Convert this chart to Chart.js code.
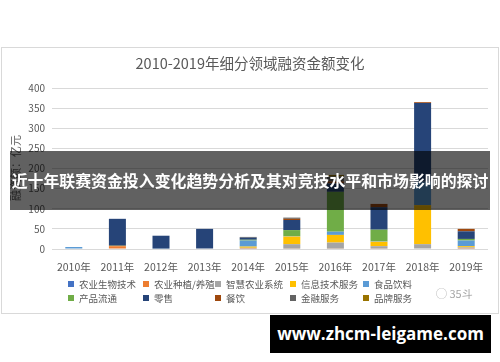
<!DOCTYPE html>
<html lang="zh">
<head>
<meta charset="UTF-8">
<title>2010-2019年细分领域融资金额变化</title>
<script src="https://cdn.jsdelivr.net/npm/chart.js"></script>
<style>
  html, body { margin: 0; padding: 0; background: #fff; }
  body { width: 500px; height: 362px; position: relative; overflow: hidden;
         font-family: 'Noto Sans CJK SC', 'Liberation Sans', sans-serif; }
  .frame { position: absolute; left: 1px; top: 47px; width: 496px; height: 265px; border: 1px solid #d9d9d9; }
  #chartBox { position: absolute; left: 0; top: 0; width: 500px; height: 362px; }
  .title { position: absolute; left: 0; width: 500px; top: 53px; text-align: center;
           font-size: 14.5px; color: #595959; line-height: 20px; }
  .ytitle { position: absolute; left: 15px; top: 168px; transform: translate(-50%, -50%) rotate(-90deg);
            font-size: 11px; color: #595959; white-space: nowrap; }
  .legend { position: absolute; left: 0; top: 277px; width: 500px; }
  .legend-item { position: absolute; font-size: 9.5px; color: #595959; white-space: nowrap; line-height: 14px; }
  .legend-item span.box { display: inline-block; width: 6px; height: 6px; margin-right: 5px; vertical-align: 1px; }
  .mark { position: absolute; left: 436px; top: 285px; font-size: 11px; color: #a6a6a6; }
  .banner { position: absolute; left: 10px; top: 151px; width: 480px; height: 59px;
            background: rgba(0,0,0,0.62); color: #fff; font-weight: bold; font-size: 15.9px;
            line-height: 59px; text-align: center; white-space: nowrap; }
  .site { position: absolute; left: 270px; top: 315px; width: 221px; height: 38px; background: #000;
          color: #fff; font-family: 'Open Sans', 'DejaVu Sans', sans-serif; font-weight: bold; font-size: 17px;
          line-height: 38px; text-align: center; white-space: nowrap; }
</style>
</head>
<body>
  <div class="frame"></div>
  <div id="chartBox"><canvas id="fundChart"></canvas></div>
  <div class="title">2010-2019年细分领域融资金额变化</div>
  <div class="ytitle">融资额：亿元</div>
  <div class="legend" id="legend"></div>
  <div class="mark">&#9711; 35斗</div>
  <div class="banner">近十年联赛资金投入变化趋势分析及其对竞技水平和市场影响的探讨</div>
  <div class="site">www.zhcm-leigame.com</div>

<script>
// years on the x axis
const years = ['2010年', '2011年', '2012年', '2013年', '2014年', '2015年', '2016年', '2017年', '2018年', '2019年'];
const yTicks = [0, 50, 100, 150, 200, 250, 300, 350, 400];

// series values (亿元)
const agriBio   = [0, 0, 0, 0, 1, 0, 0, 0, 0, 1];
const planting  = [0, 7, 0, 0, 1, 1, 1, 1, 0, 1];
const smartAgri = [0, 0, 0, 0, 1, 11, 15, 6, 12, 2];
const itService = [0, 1, 0, 0, 3, 19, 19, 11, 97, 3];
const foodDrink = [5, 0, 1, 0, 15, 1, 8, 1, 58, 14];
const logistics = [0, 0, 0, 0, 2, 15, 99, 29, 0, 4];
const retail    = [0, 67, 32, 50, 5, 25, 21, 56, 196, 19];
const catering  = [0, 0, 0, 0, 0, 3, 5, 8, 2, 6];
const finance   = [0, 0, 0, 0, 2, 3, 12, 0, 0, 0];
const branding  = [0, 0, 0, 0, 0, 0, 4, 0, 0, 0];

const seriesNames = ['农业生物技术', '农业种植/养殖', '智慧农业系统', '信息技术服务', '食品饮料',
                     '产品流通', '零售', '餐饮', '金融服务', '品牌服务'];
const seriesData = [agriBio, planting, smartAgri, itService, foodDrink,
                    logistics, retail, catering, finance, branding];
const seriesColors = ['#4472C4', '#ED7D31', '#A5A5A5', '#FFC000', '#5B9BD5',
                      '#70AD47', '#264478', '#9E480E', '#636363', '#997300'];

Chart.defaults.font.family = "'Noto Sans CJK SC', 'Liberation Sans', sans-serif";
Chart.defaults.color = '#595959';

const datasets = seriesNames.map((name, i) => ({
    label: name,
    data: seriesData[i],
    backgroundColor: seriesColors[i],
    borderWidth: 0,
    stack: 'all',
    barPercentage: 0.39,
    categoryPercentage: 1
}));

const chart = new Chart(document.getElementById('fundChart'), {
    type: 'bar',
    data: { labels: years, datasets: datasets },
    options: {
        responsive: true,
        maintainAspectRatio: false,
        animation: false,
        layout: { padding: { top: 88, right: 12, left: 0, bottom: 0 } },
        plugins: { legend: { display: false }, tooltip: { enabled: false } },
        scales: {
            x: {
                stacked: true,
                grid: { display: false },
                border: { display: false },
                ticks: { font: { size: 10.5 }, padding: 4, maxRotation: 0 },
                afterFit: s => { s.height = 113; }
            },
            y: {
                stacked: true,
                min: 0,
                max: 400,
                afterBuildTicks: s => { s.ticks = yTicks.map(v => ({ value: v })); },
                grid: { color: '#d9d9d9', drawTicks: false },
                border: { display: false },
                ticks: { font: { size: 10 }, padding: 7 },
                afterFit: s => { s.width = 52; }
            }
        }
    }
});

// legend laid out in columns like the original
const legendCols = [68, 143, 215, 290, 363];
const legendRows = [0, 14];
const legendBox = document.getElementById('legend');
chart.data.datasets.forEach((ds, i) => {
    const item = document.createElement('div');
    item.className = 'legend-item';
    item.style.left = legendCols[i % 5] + 'px';
    item.style.top = legendRows[Math.floor(i / 5)] + 'px';
    item.innerHTML = `<span class="box" style="background:${ds.backgroundColor}"></span>${ds.label}`;
    legendBox.appendChild(item);
});
</script>
</body>
</html>
